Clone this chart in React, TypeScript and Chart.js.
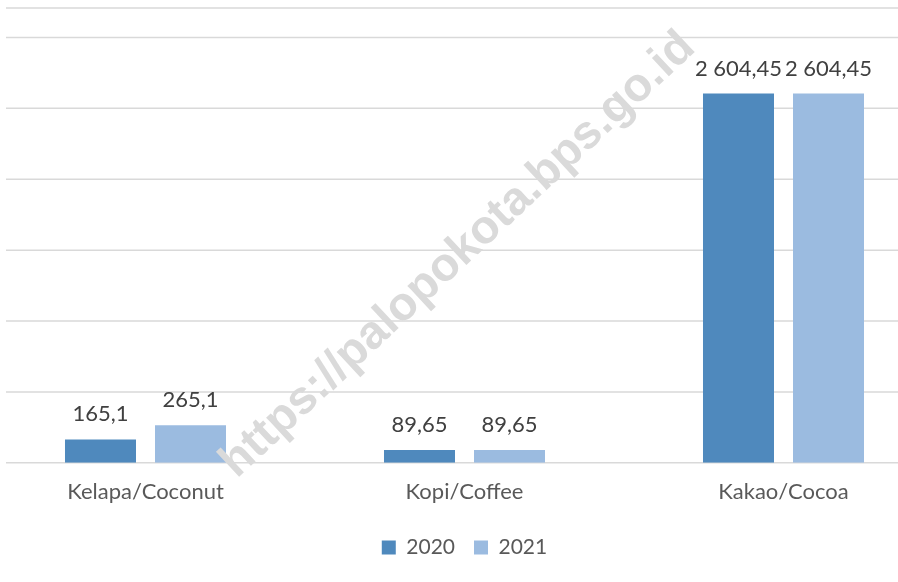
import React, { useEffect, useRef } from "react";
import { Chart, registerables } from "chart.js";

Chart.register(...registerables);

const categories = ["Kelapa/Coconut", "Kopi/Coffee", "Kakao/Cocoa"];
const seriesNames = ["2020", "2021"];
const values2020 = [165.1, 89.65, 2604.45];
const values2021 = [265.1, 89.65, 2604.45];
const gridValues = [0, 500, 1000, 1500, 2000, 2500, 3000];
const colors = ["#4f89bd", "#9bbbe0"];
const watermarkText = "https://palopokota.bps.go.id";

const LEFT = -14;
const W = 957;
const H = 568;
const FONT = "Lato, 'Noto Sans', sans-serif";

function fmt(v: number): string {
  const [i, d] = v.toString().split(".");
  const ii = i.replace(/\B(?=(\d{3})+(?!\d))/g, " ");
  return d ? ii + "," + d : ii;
}

const gridPlugin = {
  id: "customGrid",
  beforeDatasetsDraw(chart: any) {
    const { ctx, chartArea, scales } = chart;
    const y = scales.y;
    ctx.save();
    ctx.strokeStyle = "#d9d9d9";
    ctx.lineWidth = 1.5;
    const vals = [...gridValues, y.max];
    for (const v of vals) {
      const py = y.getPixelForValue(v);
      ctx.beginPath();
      ctx.moveTo(6 - LEFT, py);
      ctx.lineTo(chartArea.right, py);
      ctx.stroke();
    }
    ctx.restore();
  },
};

const labelPlugin = {
  id: "valueLabels",
  afterDatasetsDraw(chart: any) {
    const { ctx } = chart;
    ctx.save();
    // watermark
    ctx.save();
    ctx.translate(458 - LEFT, 255);
    ctx.rotate((-43 * Math.PI) / 180);
    ctx.font = "bold 47px 'Liberation Sans', Arial, sans-serif";
    ctx.fillStyle = "#dadada";
    ctx.textAlign = "center";
    ctx.textBaseline = "middle";
    ctx.fillText(watermarkText, 0, 0);
    ctx.restore();

    ctx.font = `22px ${FONT}`;
    ctx.fillStyle = "#404040";
    ctx.textAlign = "center";
    ctx.textBaseline = "alphabetic";
    chart.data.datasets.forEach((ds: any, di: number) => {
      const meta = chart.getDatasetMeta(di);
      meta.data.forEach((bar: any, i: number) => {
        ctx.fillText(fmt(ds.data[i]), bar.x, bar.y - 18);
      });
    });
    ctx.restore();
  },
};

export default function App() {
  const ref = useRef<HTMLCanvasElement | null>(null);
  useEffect(() => {
    if (!ref.current) return;
    const chart = new Chart(ref.current, {
      type: "bar",
      data: {
        labels: categories,
        datasets: [
          {
            label: seriesNames[0],
            data: values2020,
            backgroundColor: colors[0],
            categoryPercentage: 0.5643,
            barPercentage: 0.7889,
          },
          {
            label: seriesNames[1],
            data: values2021,
            backgroundColor: colors[1],
            categoryPercentage: 0.5643,
            barPercentage: 0.7889,
          },
        ],
      },
      options: {
        responsive: false,
        animation: false,
        devicePixelRatio: 1,
        layout: { padding: { top: 8, left: 0, right: 0, bottom: 0 } },
        scales: {
          x: {
            grid: { display: false, drawTicks: false },
            border: { display: false },
            ticks: {
              font: { family: FONT, size: 22 },
              color: "#595959",
              padding: 16,
              maxRotation: 0,
              autoSkip: false,
            },
            afterFit: (scale: any) => {
              scale.height = 55.2;
            },
          },
          y: {
            display: false,
            min: 0,
            max: 3208,
            grid: { display: false, drawTicks: false },
            border: { display: false },
            ticks: { display: false },
          },
        },
        plugins: {
          tooltip: { enabled: false },
          legend: {
            position: "bottom",
            labels: {
              font: { family: FONT, size: 21 },
              color: "#595959",
              boxWidth: 14,
              boxHeight: 14,
              padding: 19,
            },
          },
        },
      },
      plugins: [gridPlugin, labelPlugin],
    });
    return () => chart.destroy();
  }, []);
  return (
    <div style={{ position: "fixed", left: LEFT, top: 0, width: W, height: H, background: "#fff" }}>
      <canvas ref={ref} width={W} height={H} style={{ display: "block", width: W, height: H }} />
    </div>
  );
}
